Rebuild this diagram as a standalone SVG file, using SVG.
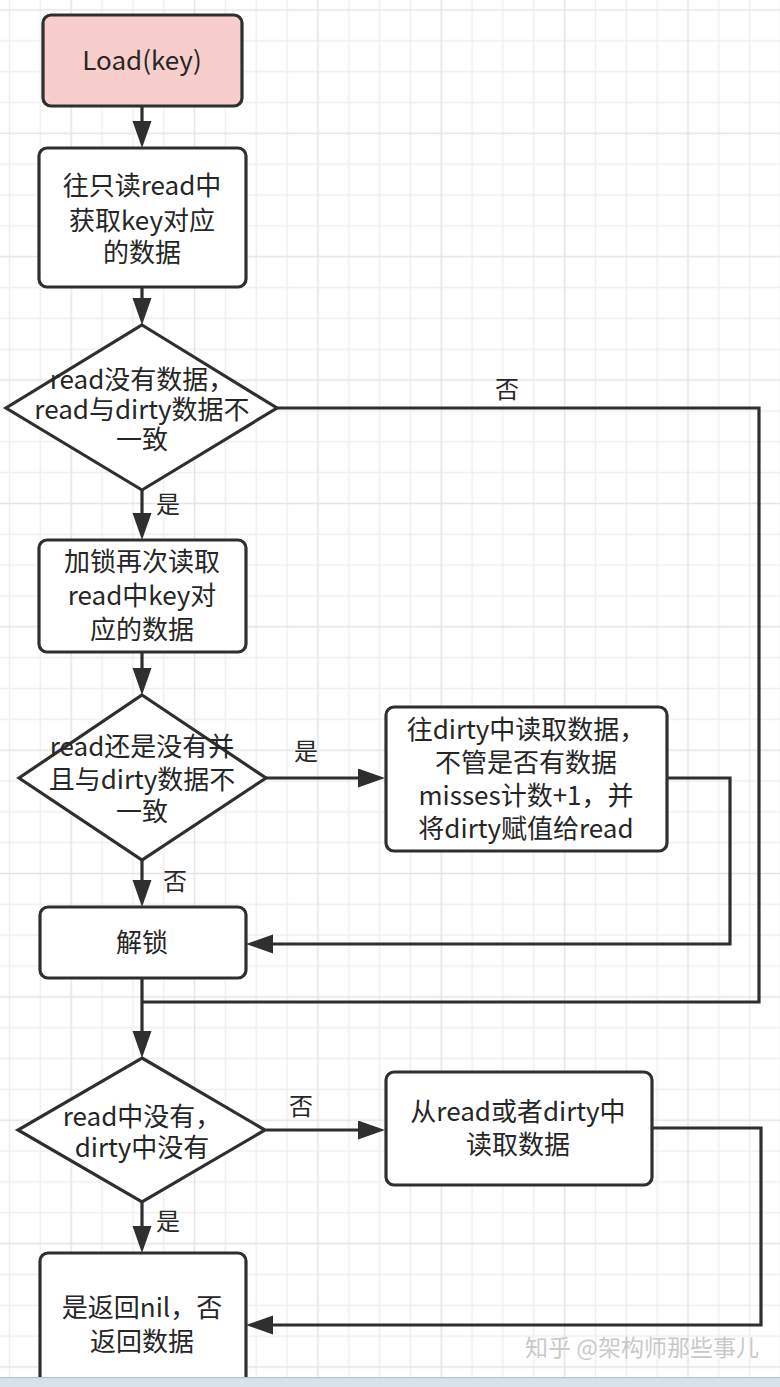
<svg xmlns="http://www.w3.org/2000/svg" width="780" height="1387" viewBox="0 0 780 1387">
<style>
.box{fill:#ffffff;stroke:#2f2f2f;stroke-width:3.2}
.start{fill:#f8cecc;stroke:#2f2f2f;stroke-width:3.2}
.t{font-family:"Noto Sans CJK SC","Noto Sans",sans-serif;font-size:26px;fill:#262626;text-anchor:middle}
.lbl{font-family:"Noto Sans CJK SC","Noto Sans",sans-serif;font-size:24px;fill:#262626;text-anchor:middle}
.wm{font-family:"Noto Sans CJK SC","Noto Sans",sans-serif;font-size:23px;fill:#c9c9c9}
.c{fill:none;stroke:#2f2f2f;stroke-width:3.2}
</style>
<defs>
<pattern id="grid" patternUnits="userSpaceOnUse" x="55.78" y="-5.42" width="123.36" height="123.36">
<rect x="0" y="45.51" width="123.36" height="1.5" fill="#efefef"/>
<rect x="0" y="76.35" width="123.36" height="1.5" fill="#efefef"/>
<rect x="0" y="107.19" width="123.36" height="1.5" fill="#efefef"/>
<rect x="45.51" y="0" width="1.5" height="123.36" fill="#efefef"/>
<rect x="76.35" y="0" width="1.5" height="123.36" fill="#efefef"/>
<rect x="107.19" y="0" width="1.5" height="123.36" fill="#efefef"/>
<rect x="0" y="14.67" width="123.36" height="1.5" fill="#e4e4e4"/>
<rect x="14.67" y="0" width="1.5" height="123.36" fill="#e4e4e4"/>
</pattern>
<marker id="arr" markerUnits="userSpaceOnUse" markerWidth="28" markerHeight="20" refX="17" refY="9.5" orient="auto">
<path d="M0,0 L27,9.5 L0,19 z" fill="#2f2f2f"/>
</marker>
</defs>
<rect x="0" y="0" width="780" height="1387" fill="#ffffff"/>
<rect x="0" y="0" width="780" height="1387" fill="url(#grid)"/>

<g id="connectors">
<path class="c" d="M142,106 V138" marker-end="url(#arr)"/>
<path class="c" d="M142,287 V315" marker-end="url(#arr)"/>
<path class="c" d="M142,490 V530" marker-end="url(#arr)"/>
<path class="c" d="M277,408 H759 V1002 H142"/>
<path class="c" d="M142,652 V685" marker-end="url(#arr)"/>
<path class="c" d="M266,778 H375" marker-end="url(#arr)"/>
<path class="c" d="M142,860 V897" marker-end="url(#arr)"/>
<path class="c" d="M667,778 H730 V944 H256" marker-end="url(#arr)"/>
<path class="c" d="M142,978 V1048" marker-end="url(#arr)"/>
<path class="c" d="M266,1130 H375" marker-end="url(#arr)"/>
<path class="c" d="M142,1202 V1243" marker-end="url(#arr)"/>
<path class="c" d="M652,1128 H761 V1325 H256" marker-end="url(#arr)"/>
<text class="lbl" x="507" y="398">否</text>
<text class="lbl" x="168" y="513">是</text>
<text class="lbl" x="306" y="760">是</text>
<text class="lbl" x="175" y="890">否</text>
<text class="lbl" x="301" y="1115">否</text>
<text class="lbl" x="168" y="1230">是</text>
</g>

<g id="n-load">
<rect class="start" x="43" y="15" width="199" height="91" rx="8"/>
<text class="t" x="142" y="70">Load(key)</text>
</g>
<g id="n-read">
<rect class="box" x="39" y="148" width="207" height="139" rx="8"/>
<text class="t" x="142" y="195">往只读read中<tspan x="142" dy="35">获取key对应</tspan><tspan x="142" dy="32">的数据</tspan></text>
</g>
<g id="n-d1">
<polygon class="box" points="142,325 277,408 142,490 6,408"/>
<text class="t" x="142" y="389">read没有数据，<tspan x="142" dy="30">read与dirty数据不</tspan><tspan x="142" dy="30">一致</tspan></text>
</g>
<g id="n-lock">
<rect class="box" x="39" y="540" width="207" height="112" rx="8"/>
<text class="t" x="142" y="571">加锁再次读取<tspan x="142" dy="34">read中key对</tspan><tspan x="142" dy="34">应的数据</tspan></text>
</g>
<g id="n-d2">
<polygon class="box" points="142,695 266,778 142,860 19,778"/>
<text class="t" x="142" y="756">read还是没有并<tspan x="142" dy="33">且与dirty数据不</tspan><tspan x="142" dy="32">一致</tspan></text>
</g>
<g id="n-dirty">
<rect class="box" x="386" y="707" width="281" height="144" rx="8"/>
<text class="t" x="526" y="739">往dirty中读取数据，<tspan x="526" dy="33">不管是否有数据</tspan><tspan x="526" dy="33">misses计数+1，并</tspan><tspan x="526" dy="33">将dirty赋值给read</tspan></text>
</g>
<g id="n-unlock">
<rect class="box" x="40" y="907" width="206" height="71" rx="8"/>
<text class="t" x="142" y="952">解锁</text>
</g>
<g id="n-d3">
<polygon class="box" points="142,1058 265,1130 142,1202 18,1130"/>
<text class="t" x="142" y="1126">read中没有，<tspan x="142" dy="31">dirty中没有</tspan></text>
</g>
<g id="n-get">
<rect class="box" x="386" y="1072" width="266" height="113" rx="8"/>
<text class="t" x="518" y="1121">从read或者dirty中<tspan x="518" dy="33">读取数据</tspan></text>
</g>
<g id="n-ret">
<rect class="box" x="40" y="1253" width="206" height="160" rx="8"/>
<text class="t" x="142" y="1317">是返回nil，否<tspan x="142" dy="34">返回数据</tspan></text>
</g>

<text class="wm" x="525" y="1356">知乎 @架构师那些事儿</text>

<rect x="0" y="1377" width="780" height="10" fill="#d7e3eb"/>
<rect x="0" y="1377" width="780" height="1.2" fill="#b8c4cc"/>
</svg>
